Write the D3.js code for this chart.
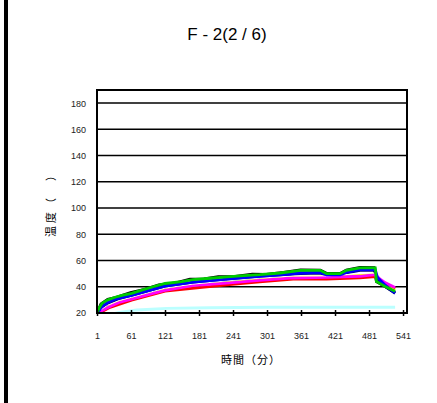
<!DOCTYPE html>
<html><head><meta charset="utf-8">
<script src="https://cdn.jsdelivr.net/npm/d3@7"></script>
<style>body{margin:0;background:#fff}svg{display:block}</style>
</head><body><svg id="c" width="437" height="403"></svg>
<script>
const title = "F - 2(2 / 6)";
const xTitle = "時間（分）";
const yTitle = "温度（　）";
const xTicks = [1, 61, 121, 181, 241, 301, 361, 421, 481, 541];
const yTicks = [20, 40, 60, 80, 100, 120, 140, 160, 180];

const blackT = [1, 8, 20, 35, 60, 85, 110, 140, 165, 190, 215, 245, 275, 300, 330, 360, 395, 406, 430, 441, 465, 490, 494, 510, 527];
const blackV = [20, 27, 30.5, 32, 35.5, 38, 41.5, 43, 45.8, 46, 47.8, 47.9, 49.6, 49.5, 51, 52.9, 52.6, 50.3, 50.2, 52.8, 54.8, 54.6, 44, 40, 35.5];
const redT = [5, 24, 62, 121, 230, 288, 347, 406, 465, 492, 500, 527];
const redV = [20, 24.3, 29.8, 36.6, 41.5, 43.8, 45.8, 45.8, 46.8, 47.8, 45, 38.5];
const yellowT = [3, 10, 24, 62, 121, 230, 288, 347, 406, 465, 492, 497, 510, 527];
const yellowV = [20, 24, 27.3, 32.3, 38.8, 44, 45.8, 47.3, 47.8, 48.8, 49.7, 44.5, 40.5, 37];
const cyanT = [1, 38, 71, 124, 200, 300, 527];
const cyanV = [16, 20.3, 22.3, 23.6, 24, 24.4, 24.4];
const navyT = [1, 6, 12, 22, 35, 62, 100, 121, 170, 230, 288, 324, 360, 395, 406, 430, 441, 465, 490, 497, 510, 527];
const navyV = [20, 21.5, 24.5, 27.5, 30, 33, 37.5, 40, 43, 45.3, 47.5, 48.5, 50, 50.5, 48.5, 48.5, 50.5, 52.5, 52.5, 45.5, 40, 35];
const magentaT = [5, 10, 24, 40, 62, 100, 121, 170, 230, 288, 347, 406, 465, 492, 500, 510, 527];
const magentaV = [20, 22, 25, 28, 30.5, 35, 37.2, 40.8, 42.8, 44.9, 46.7, 47.2, 48, 49.2, 46, 43, 39.5];
const whiteT = [8, 20, 40, 62, 100, 121, 170, 230, 288, 347, 406, 465, 490];
const whiteV = [22.5, 26, 29.5, 32, 36.5, 39, 42, 44.5, 46.6, 48.2, 48.3, 50, 50.5];
const blueT = [1, 5, 10, 20, 33, 62, 100, 121, 170, 230, 288, 324, 360, 395, 406, 430, 441, 465, 492, 496, 510, 527];
const blueV = [20, 22, 25, 28, 30.5, 33.5, 38, 40.5, 43.5, 45.8, 48, 49, 50.5, 51, 49, 49, 51, 53, 53, 47, 41, 35.3];
const greenT = [1, 5, 10, 20, 33, 45, 62, 80, 100, 121, 150, 170, 200, 230, 260, 288, 324, 360, 395, 406, 430, 441, 465, 492, 494, 510, 527];
const greenV = [20, 24, 27.5, 30, 32, 33.5, 35, 37.5, 40, 42.5, 44, 45.5, 46.5, 47.5, 48.5, 49.2, 50.5, 52.5, 52.5, 50, 50, 52.5, 54.4, 54.4, 44, 40, 36.5];

const series = [
  {t: blackT, v: blackV, c: "#000000"},
  {t: cyanT, v: cyanV, c: "#bbffff"},
  {t: redT, v: redV, c: "#ff0000"},
  {t: yellowT, v: yellowV, c: "#ffff00"},
  {t: navyT, v: navyV, c: "#000080"},
  {t: magentaT, v: magentaV, c: "#ff00ff"},
  {t: whiteT, v: whiteV, c: "#ffffff", w: 1},
  {t: blueT, v: blueV, c: "#0000ff"},
  {t: greenT, v: greenV, c: "#00cc00"}
];

const svg = d3.select("#c");
const L = 97, R = 407, T = 90, B = 313;
const x = d3.scaleLinear().domain([1, 548]).range([L, R]);
const y = d3.scaleLinear().domain([20, 190]).range([B, T]);

svg.append("rect").attr("x", 4).attr("y", 0).attr("width", 4).attr("height", 403).attr("fill", "#000");

svg.append("text").attr("x", 227).attr("y", 40).attr("text-anchor", "middle")
  .attr("font-family", "Liberation Sans, Arial, sans-serif").attr("font-size", 17).attr("fill", "#000").text(title);

svg.append("g").selectAll("line").data(yTicks.filter(d => d > 20)).join("line")
  .attr("x1", L).attr("x2", R).attr("y1", d => y(d)).attr("y2", d => y(d))
  .attr("stroke", "#000").attr("stroke-width", 1.5);

svg.append("clipPath").attr("id", "pc").append("rect").attr("x", L).attr("y", T).attr("width", R - L).attr("height", B - T);

const line = d3.line().x(d => x(d[0])).y(d => y(d[1]));
const lg = svg.append("g").attr("clip-path", "url(#pc)");
series.forEach(s => {
  lg.append("path").datum(s.t.map((t, i) => [t, s.v[i]]))
    .attr("d", line).attr("fill", "none").attr("stroke", s.c)
    .attr("stroke-width", s.w || 2.8).attr("stroke-linejoin", "miter");
});

svg.append("rect").attr("x", L).attr("y", T).attr("width", R - L).attr("height", B - T)
  .attr("fill", "none").attr("stroke", "#000").attr("stroke-width", 2);

const xa = svg.append("g").attr("transform", `translate(0,${B})`)
  .call(d3.axisBottom(x).tickValues(xTicks).tickSize(3).tickSizeOuter(0).tickPadding(17));
xa.select(".domain").remove();
xa.selectAll(".tick line").attr("y1", -3).attr("y2", 3).attr("stroke", "#000").attr("stroke-width", 1.5);
xa.selectAll(".tick text").attr("font-family", "Liberation Sans, Arial, sans-serif").attr("font-size", 9).attr("fill", "#222");

const ya = svg.append("g").attr("transform", `translate(${L},0)`)
  .call(d3.axisLeft(y).tickValues(yTicks).tickSize(0).tickPadding(11));
ya.select(".domain").remove();
ya.selectAll(".tick text").attr("font-family", "Liberation Sans, Arial, sans-serif").attr("font-size", 9).attr("fill", "#222");

svg.append("text").attr("x", 251).attr("y", 364).attr("text-anchor", "middle")
  .attr("font-family", "Noto Sans CJK JP, sans-serif").attr("font-size", 11).attr("letter-spacing", 1).attr("fill", "#000").text(xTitle);
svg.append("text").attr("transform", "translate(55,202) rotate(-90)").attr("text-anchor", "middle")
  .attr("font-family", "Noto Sans CJK JP, sans-serif").attr("font-size", 11).attr("letter-spacing", 3).attr("fill", "#000").text(yTitle);
</script></body></html>
